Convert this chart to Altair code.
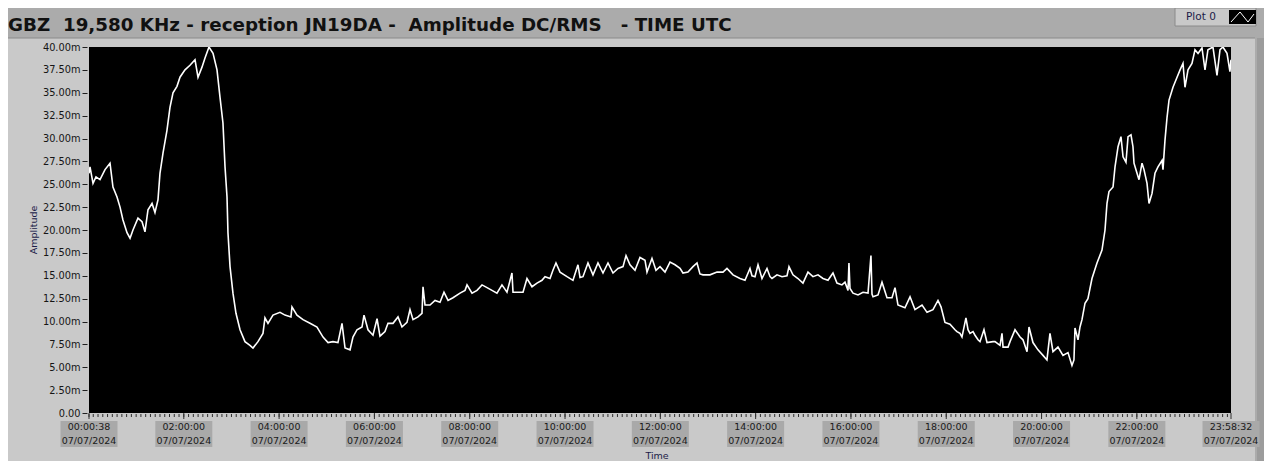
import altair as alt
import pandas as pd

# minutes after 00:00 UTC on 07/07/2024
minutes = [0.65, 1.9, 5.7, 9.4, 14.5, 20.8, 27.1, 30.8, 35.9, 39.7, 43.4, 48.5, 52.3, 56.0, 62.3, 67.4, 71.1, 74.9, 80.0, 83.7,
           87.5, 90.0, 93.8, 98.8, 102.6, 106.4, 111.4, 115.2, 121.5, 127.8, 134.1, 137.9, 142.9, 146.7, 151.7, 156.8, 161.8, 165.6, 169.3, 171.9,
           174.4, 175.6, 178.2, 181.9, 185.7, 190.8, 197.0, 203.3, 207.1, 213.4, 219.7, 222.2, 226.0, 232.3, 241.1, 247.4, 254.9, 256.2, 262.5, 270.1,
           278.9, 287.7, 295.3, 301.6, 307.8, 314.1, 319.2, 323.0, 329.3, 333.0, 338.1, 344.4, 346.9, 351.9, 358.2, 363.3, 367.0, 373.3, 377.1, 383.4,
           389.7, 394.7, 401.0, 404.8, 408.6, 414.9, 419.9, 421.2, 423.7, 430.0, 436.3, 442.6, 447.6, 452.7, 458.9, 467.8, 474.1, 476.6, 482.9, 489.2,
           495.5, 501.8, 508.0, 514.3, 520.6, 526.9, 533.2, 534.5, 540.8, 547.1, 552.1, 558.4, 564.7, 571.0, 574.8, 581.1, 584.8, 588.6, 593.7, 602.5,
           610.0, 616.3, 618.9, 622.6, 628.9, 635.2, 641.5, 647.8, 654.1, 660.4, 666.7, 673.0, 676.8, 681.8, 688.1, 694.4, 700.7, 703.2, 709.5, 714.5,
           719.6, 725.9, 732.2, 738.5, 744.8, 748.5, 754.8, 761.1, 766.2, 769.9, 773.7, 782.5, 791.4, 798.9, 803.9, 811.5, 820.3, 826.6, 832.9, 835.4,
           839.2, 843.0, 848.0, 854.3, 858.1, 860.6, 866.9, 873.2, 879.5, 882.0, 887.0, 893.3, 899.6, 905.9, 912.2, 918.5, 924.8, 931.1, 937.4, 942.4,
           948.7, 952.5, 956.3, 957.5, 958.8, 962.6, 968.9, 975.2, 981.5, 985.2, 986.5, 987.8, 994.1, 999.1, 1005.4, 1011.7, 1015.5, 1019.2, 1028.0, 1034.4,
           1040.6, 1049.5, 1055.8, 1063.3, 1069.6, 1073.4, 1078.4, 1084.7, 1091.0, 1093.5, 1097.3, 1099.8, 1104.8, 1107.4, 1109.9, 1113.7, 1116.2, 1120.0, 1122.5, 1127.5,
           1131.3, 1138.9, 1141.4, 1147.7, 1150.2, 1151.5, 1157.8, 1160.3, 1166.6, 1172.9, 1176.6, 1181.7, 1184.2, 1189.2, 1195.5, 1201.8, 1206.8, 1210.6, 1214.4, 1220.7,
           1227.0, 1233.3, 1238.3, 1240.8, 1242.1, 1245.9, 1248.4, 1250.9, 1254.7, 1258.4, 1263.5, 1269.8, 1276.1, 1279.9, 1282.4, 1284.9, 1290.0, 1292.5, 1296.3, 1300.0,
           1302.6, 1306.3, 1308.9, 1312.6, 1315.1, 1316.4, 1320.2, 1322.7, 1326.5, 1329.0, 1332.8, 1335.3, 1339.1, 1342.8, 1346.6, 1351.7, 1352.9, 1355.4, 1358.0, 1360.5,
           1365.5, 1370.6, 1374.4, 1378.1, 1380.6, 1384.4, 1389.4, 1393.2, 1397.0, 1402.0, 1405.8, 1409.5, 1415.8, 1420.9, 1424.7, 1428.4, 1433.5, 1437.2, 1438.5]

# amplitude in milli-units
amplitude = [26.2, 26.9, 25.1, 25.8, 25.5, 26.6, 27.3, 24.7, 23.6, 22.5, 21.1, 19.7, 19.1, 20.0, 21.3, 20.9, 19.8, 22.2, 22.9, 21.9,
             23.3, 26.2, 28.4, 30.9, 33.4, 35.0, 35.7, 36.7, 37.5, 38.0, 38.6, 36.7, 37.8, 38.8, 40.0, 39.3, 37.5, 34.5, 31.7, 26.9,
             23.6, 19.7, 16.0, 13.1, 10.9, 9.1, 7.8, 7.4, 7.1, 7.8, 8.7, 10.4, 9.8, 10.7, 11.0, 10.7, 10.5, 11.6, 10.7, 10.2,
             9.8, 9.4, 8.3, 7.7, 7.8, 7.7, 9.8, 7.1, 6.9, 8.3, 9.1, 9.4, 10.7, 9.1, 8.5, 10.3, 8.4, 8.9, 9.8, 9.8,
             10.5, 9.4, 9.9, 11.3, 10.2, 10.5, 10.9, 13.8, 11.8, 11.8, 12.3, 12.1, 13.2, 12.3, 12.6, 13.1, 13.4, 14.0, 13.1, 13.4,
             14.0, 13.7, 13.4, 13.1, 14.0, 13.2, 15.3, 13.2, 13.2, 13.2, 14.7, 13.8, 14.2, 14.5, 14.9, 14.7, 15.6, 16.4, 15.4, 14.9,
             14.5, 16.2, 14.8, 14.9, 16.4, 15.1, 16.4, 15.3, 16.4, 15.3, 15.8, 16.0, 17.2, 16.2, 15.6, 17.0, 16.7, 15.4, 16.9, 15.6,
             16.0, 15.4, 16.5, 16.2, 15.8, 15.3, 15.4, 16.0, 16.4, 15.2, 15.1, 15.1, 15.4, 15.4, 15.8, 15.1, 14.7, 14.5, 15.8, 15.0,
             14.9, 16.2, 14.7, 15.8, 14.9, 14.7, 15.1, 14.9, 15.0, 16.0, 15.1, 14.7, 14.2, 15.4, 14.9, 15.1, 14.7, 14.5, 15.3, 14.2,
             14.0, 14.3, 13.4, 16.4, 13.6, 13.1, 12.9, 13.2, 13.1, 17.2, 13.0, 12.7, 12.9, 14.3, 12.6, 12.6, 13.7, 11.8, 11.5, 12.7,
             11.3, 11.8, 11.0, 11.3, 12.3, 11.6, 9.9, 9.7, 9.1, 8.9, 8.7, 8.3, 10.4, 9.1, 8.7, 8.9, 8.5, 8.0, 7.8, 9.1,
             7.7, 7.8, 7.8, 7.4, 8.7, 7.2, 7.2, 7.8, 9.1, 8.3, 8.0, 6.7, 9.4, 7.7, 6.9, 6.3, 5.8, 8.7, 6.7, 7.2,
             6.3, 6.6, 5.2, 5.8, 9.3, 8.0, 9.4, 10.2, 12.0, 12.5, 14.7, 16.4, 17.8, 20.0, 22.9, 24.2, 24.7, 26.9, 29.1, 30.2,
             28.0, 27.4, 30.2, 30.4, 29.1, 27.3, 26.2, 25.5, 27.3, 26.6, 25.1, 22.9, 24.0, 26.2, 26.9, 27.6, 26.6, 29.8, 32.3, 34.2,
             35.6, 36.7, 37.5, 38.2, 35.6, 37.5, 38.2, 39.7, 39.3, 39.9, 37.5, 39.7, 40.0, 36.9, 39.7, 40.0, 39.3, 37.3, 38.6]

assert len(minutes) == len(amplitude), (len(minutes), len(amplitude))

x_start, x_end = 38 / 60, 86312 / 60            # 00:00:38 .. 23:58:32
tick_minutes = [x_start, 120, 240, 360, 480, 600, 720, 840, 960, 1080, 1200, 1320, x_end]
tick_times = ["00:00:38", "02:00:00", "04:00:00", "06:00:00", "08:00:00", "10:00:00", "12:00:00",
              "14:00:00", "16:00:00", "18:00:00", "20:00:00", "22:00:00", "23:58:32"]
tick_date = "07/07/2024"
minor_ticks = [m for m in range(6, 1440, 6)] + [x_start]
y_ticks = [i * 2.5 for i in range(17)]

title_text = "GBZ\u00a0\u00a019,580 KHz - reception JN19DA -\u00a0\u00a0Amplitude DC/RMS\u00a0\u00a0\u00a0- TIME UTC"

W, H = 1142, 366
FONT = "DejaVu Sans"
NAVY = "#1c1c48"

df = pd.DataFrame({"t": minutes, "v": amplitude})
ticks_df = pd.DataFrame({"t": tick_minutes, "label": [f"{a}\n{tick_date}" for a in tick_times]})
minor_df = pd.DataFrame({"t": minor_ticks})
one = pd.DataFrame({"k": [0]})

xscale = alt.Scale(domain=[x_start, x_end], nice=False, zero=False)
yscale = alt.Scale(domain=[0, 40], nice=False)
xaxis = alt.Axis(labels=False, ticks=False, domain=False, grid=False, title=None)
yaxis = alt.Axis(values=y_ticks, domain=False, grid=False, tickSize=5, offset=2, zindex=2,
                 tickColor="#202020", labelPadding=2, labelFont=FONT, labelFontSize=9.8,
                 labelColor="#151515", title=None, labelOverlap=False,
                 labelExpr="datum.value == 0 ? '0.00' : format(datum.value, '.2f') + 'm'")

# decorative panel
panel = alt.Chart(one).mark_rect(color="#c9c9c9").encode(
    x=alt.value(-89), x2=alt.value(1166), y=alt.value(-9), y2=alt.value(415))
panel_edge = alt.Chart(one).mark_rule(color="#8a8a8a", strokeWidth=1).encode(
    x=alt.value(-89), x2=alt.value(1166), y=alt.value(-9))
right_strip = alt.Chart(one).mark_rect(color="#9c9c9c").encode(
    x=alt.value(1168), x2=alt.value(1180), y=alt.value(-9), y2=alt.value(420))

plot_bg = alt.Chart(one).mark_rect(color="black").encode(
    x=alt.value(0), x2=alt.value(W), y=alt.value(0), y2=alt.value(H))

line = alt.Chart(df).mark_line(color="white", strokeWidth=1.6, clip=True).encode(
    x=alt.X("t:Q", scale=xscale, axis=xaxis),
    y=alt.Y("v:Q", scale=yscale, axis=yaxis),
)

minor_tick_marks = alt.Chart(minor_df).mark_rule(color="#303030").encode(
    x=alt.X("t:Q", scale=xscale, axis=xaxis), y=alt.value(H + 1), y2=alt.value(H + 4))
major_ticks = alt.Chart(ticks_df).mark_rule(color="#303030").encode(
    x=alt.X("t:Q", scale=xscale, axis=xaxis), y=alt.value(H), y2=alt.value(H + 6))

label_boxes = alt.Chart(ticks_df).mark_point(
    shape="M-1,-0.456H1V0.456H-1Z", filled=True, color="#a9a9a9", opacity=1, size=57 * 57,
    strokeWidth=0).encode(x=alt.X("t:Q", scale=xscale, axis=xaxis), y=alt.value(H + 21))

label_text = alt.Chart(ticks_df).mark_text(
    font=FONT, fontSize=9.5, color="#1a1a1a", lineBreak="\n", lineHeight=14,
    align="center", baseline="middle").encode(
    x=alt.X("t:Q", scale=xscale, axis=xaxis), y=alt.value(H + 14), text="label:N")

x_title = alt.Chart(one).mark_text(text="Time", font=FONT, fontSize=9.5, color=NAVY,
                                   align="center", baseline="middle").encode(
    x=alt.value(568), y=alt.value(H + 43))
y_title = alt.Chart(one).mark_text(text="Amplitude", font=FONT, fontSize=9.5, color=NAVY,
                                   angle=270, align="center", baseline="middle").encode(
    x=alt.value(-55), y=alt.value(H / 2))

title = alt.Chart(one).mark_text(text=title_text, font=FONT, fontSize=18.3, fontWeight="bold",
                                 color="#111111", align="left", baseline="alphabetic").encode(
    x=alt.value(-81), y=alt.value(-16))

legend_box = alt.Chart(one).mark_rect(color="#c9c9c9", stroke="#8a8a8a", strokeWidth=1).encode(
    x=alt.value(1086), x2=alt.value(1167), y=alt.value(-39), y2=alt.value(-21))
legend_text = alt.Chart(one).mark_text(text="Plot 0", font=FONT, fontSize=10.5, color=NAVY,
                                       align="left", baseline="middle").encode(
    x=alt.value(1097), y=alt.value(-30))
legend_icon = alt.Chart(one).mark_rect(color="black").encode(
    x=alt.value(1140), x2=alt.value(1167), y=alt.value(-37), y2=alt.value(-23))
zz1 = alt.Chart(one).mark_rule(color="white").encode(
    x=alt.value(1142), y=alt.value(-25), x2=alt.value(1151), y2=alt.value(-35))
zz2 = alt.Chart(one).mark_rule(color="white").encode(
    x=alt.value(1151), y=alt.value(-35), x2=alt.value(1159), y2=alt.value(-25))
zz3 = alt.Chart(one).mark_rule(color="white").encode(
    x=alt.value(1159), y=alt.value(-25), x2=alt.value(1165), y2=alt.value(-33))

chart = alt.layer(
    panel, panel_edge, right_strip, plot_bg, line, minor_tick_marks, major_ticks, label_boxes,
    label_text, x_title, y_title, title, legend_box, legend_text, legend_icon, zz1, zz2, zz3
).properties(
    width=W, height=H,
    padding={"left": 81, "top": 39, "right": 33, "bottom": 48},
    autosize=alt.AutoSizeParams(type="none"),
    background="#ababab",
).configure_view(stroke=None)

chart.save("out.html", embed_options={"renderer": "svg", "actions": False})
